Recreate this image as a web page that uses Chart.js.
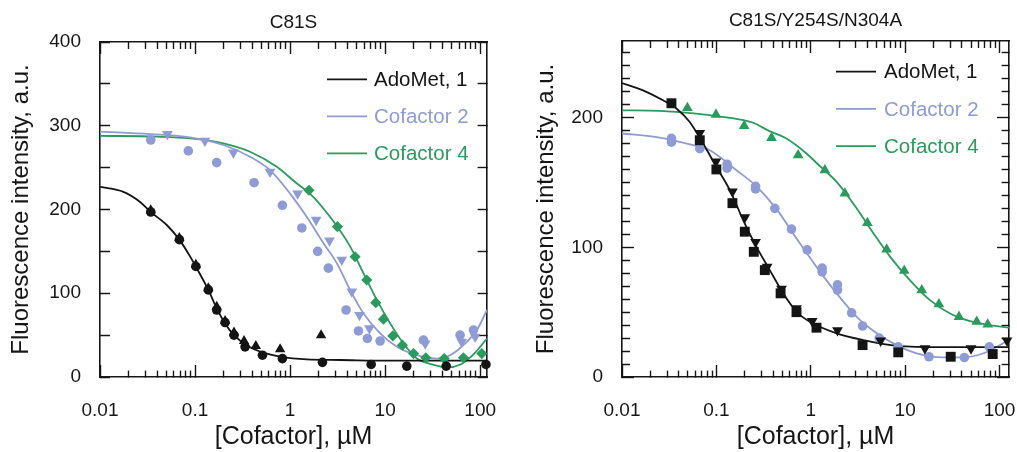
<!DOCTYPE html>
<html><head><meta charset="utf-8">
<script src="https://cdn.jsdelivr.net/npm/chart.js@4.4.1/dist/chart.umd.min.js"></script>
<style>
html,body{margin:0;padding:0;background:#fff;width:1017px;height:452px;overflow:hidden;}
#p1{position:absolute;left:0;top:0;}
#p2{position:absolute;left:508px;top:0;}
</style></head><body>
<canvas id="p1" width="508" height="452"></canvas>
<canvas id="p2" width="509" height="452"></canvas>
<script>
// ---------- text ----------
const panelTitles = ['C81S', 'C81S/Y254S/N304A'];
const seriesNames = ['AdoMet, 1', 'Cofactor 2', 'Cofactor 4'];
const xTitle = '[Cofactor], µM';
const yTitle = 'Fluorescence intensity, a.u.';

// ---------- ticks ----------
const xMajorTicks = [0.01, 0.1, 1, 10, 100];
const xTickLabels = ['0.01', '0.1', '1', '10', '100'];
const xMinorMultipliers = [2, 3, 4, 5, 6, 7, 8, 9];
const aYTicks = [0, 50, 100, 150, 200, 250, 300, 350, 400];
const aYTickLabels = [0, 100, 200, 300, 400];
const bYTicks = [0,10,20,30,40,50,60,70,80,90,100,110,120,130,140,150,160,170,180,190,200,210,220,230,240,250];
const bYTickLabels = [0, 100, 200];

// ---------- Panel A: C81S ----------
const a_ado_fit_x = [0.01, 0.0176, 0.0264, 0.0342, 0.0504, 0.0684, 0.0886, 0.104, 0.138, 0.169, 0.207, 0.257, 0.35, 0.524, 0.785, 1.5, 3.36, 11.3, 118];
const a_ado_fit_y = [227, 221, 209, 197, 181.5, 164, 144, 130, 104, 82, 64, 50, 38, 29, 24.3, 21, 20.3, 19.5, 19.5];
const a_ado_circ_x = [0.0342, 0.0684, 0.102, 0.138, 0.169, 0.207, 0.257, 0.336, 0.512, 0.83, 2.19, 7.13, 16.9, 43.9, 115];
const a_ado_circ_y = [197, 164, 132, 104, 80, 65, 50, 36, 26, 22, 17.5, 15, 13, 13, 15];
const a_ado_tri_x = [0.0342, 0.0684, 0.102, 0.138, 0.169, 0.207, 0.257, 0.328, 0.436, 0.785, 2.12];
const a_ado_tri_y = [199, 166, 134, 106, 84, 67, 53, 43, 37, 33, 50];

const a_c2_fit_x = [0.01, 0.0336, 0.0886, 0.199, 0.379, 0.615, 1.0, 1.5, 2.24, 3.1, 4.28, 5.91, 8.86, 13.3, 21.6, 35, 48.3, 72.4, 92.3, 118];
const a_c2_fit_y = [293, 290, 286, 277, 263, 247, 219, 191, 160, 136, 104, 76, 52, 36, 26, 22, 26, 42, 56, 80];
const a_c2_circ_x = [0.0342, 0.085, 0.169, 0.418, 0.83, 1.33, 1.95, 2.53, 3.88, 5.24, 6.51, 8.86, 25.3, 61.5, 85];
const a_c2_circ_y = [283, 270, 256, 232, 205, 178, 150, 130, 80, 55, 46, 43, 44, 50, 56];
const a_c2_dtri_x = [0.0512, 0.127, 0.253, 0.615, 1.2, 1.88, 2.6, 3.5, 4.46, 5.37, 6.84, 26.4, 64, 88.5];
const a_c2_dtri_y = [290, 282, 268, 245, 219, 187.5, 163, 140, 102, 74, 58, 40, 42, 48];

const a_c4_fit_x = [0.01, 0.0395, 0.0886, 0.199, 0.379, 0.724, 1.18, 1.62, 2.64, 4.28, 5.91, 8.17, 11.3, 15.6, 21.6, 32.3, 45, 62, 85, 118];
const a_c4_fit_y = [288, 287, 285, 279, 269, 251, 231, 219, 191, 156, 124, 92, 64, 40, 22, 14.5, 11.5, 15, 27, 46];
const a_c4_diam_x = [1.58, 3.15, 4.83, 6.41, 7.98, 9.6, 12.05, 15.2, 19.9, 26.8, 41.8, 66.7, 104];
const a_c4_diam_y = [223, 179.5, 143.6, 115.8, 88.7, 69, 49, 38, 28, 23, 22, 23, 28];

// ---------- Panel B: C81S/Y254S/N304A ----------
const b_ado_fit_x = [0.01, 0.0167, 0.0272, 0.0377, 0.0522, 0.0723, 0.1, 0.139, 0.192, 0.266, 0.368, 0.51, 0.706, 0.977, 1.88, 3.6, 8.13, 25.3, 126];
const b_ado_fit_y = [226.6, 221, 213.3, 207, 196.6, 180, 162, 144, 121, 100.3, 82.4, 64.5, 50.3, 42.6, 33.7, 28.5, 24, 23, 23];
const b_ado_sq_x = [0.0334, 0.0667, 0.1, 0.148, 0.2, 0.249, 0.326, 0.479, 0.706, 1.15, 3.54, 8.45, 30.4, 84.7];
const b_ado_sq_y = [211, 182.5, 160, 134, 112, 96.5, 82.4, 64.5, 50, 38, 24.6, 19, 15.6, 17.7];
const b_ado_dtri_x = [0.0667, 0.099, 0.148, 0.2, 0.26, 0.345, 0.49, 0.706, 1.035, 1.92, 5.5, 16.2, 49.9, 120];
const b_ado_dtri_y = [188, 166, 143, 123, 104, 85, 68, 53, 43, 36, 28, 22, 22, 28];

const b_c2_fit_x = [0.01, 0.0251, 0.0566, 0.0851, 0.163, 0.266, 0.434, 0.706, 1.15, 1.88, 3.07, 5.01, 8.13, 13.2, 25.3, 41.6, 67.8, 126];
const b_c2_fit_y = [187.7, 184.6, 178.7, 174.8, 159.4, 147, 129.4, 106.8, 84.9, 64.5, 46.4, 33.7, 24.6, 18.3, 15.2, 15.2, 18.3, 28.5];
const b_c2_circ_x = [0.0334, 0.0667, 0.13, 0.26, 0.416, 0.625, 0.916, 1.32, 1.92, 2.71, 3.54, 5.31, 8.45, 17.9, 42.4, 78];
const b_c2_circ_y = [184, 176, 164, 147, 130, 114, 98, 84, 71, 49.5, 39.3, 30, 23.3, 15.6, 15, 23.3];
const b_c2_circ2_x = [0.0334, 0.13, 0.26, 1.32, 1.92];
const b_c2_circ2_y = [181, 161, 145, 81, 67];

const b_c4_fit_x = [0.01, 0.0251, 0.0377, 0.0851, 0.163, 0.245, 0.366, 0.553, 0.9, 1.25, 1.88, 3.07, 4.62, 6.95, 11.2, 18.3, 29.9, 48.6, 79.3, 126];
const b_c4_fit_y = [205.6, 205.1, 204.3, 201.8, 199, 196, 189.5, 183.8, 172.3, 162.5, 150.4, 129.9, 110.7, 92.6, 74.7, 59.3, 49, 43.1, 40, 38];
const b_c4_tri_x = [0.0493, 0.099, 0.197, 0.384, 0.735, 1.41, 2.3, 3.98, 6.37, 9.78, 15, 22.8, 37.2, 57.3, 75];
const b_c4_tri_y = [207.4, 202.3, 193.5, 184.3, 171, 159.4, 141.5, 118.8, 98.3, 81.9, 67, 56.2, 46.4, 42.6, 40.6];

// ---------- styling ----------
const FONT = "'Liberation Sans', Arial, Helvetica, sans-serif";
const INK = '#161616';
const BLACK = '#141414';
const LAV = '#8e9bd4';
const GREEN = '#2a9b5c';
Chart.defaults.font.family = FONT;
Chart.defaults.color = INK;

const zip = (xs, ys) => xs.map((x, i) => ({x: x, y: ys[i]}));
function fitLine(label, color, xs, ys) {
  return {label, data: zip(xs, ys), showLine: true, borderColor: color, backgroundColor: color,
    borderWidth: 1.8, pointRadius: 0, pointHoverRadius: 0, fill: false,
    cubicInterpolationMode: 'monotone', order: 2};
}
function markers(label, color, style, r, rot, xs, ys) {
  return {label, data: zip(xs, ys), showLine: false, pointStyle: style, pointRadius: r,
    pointHoverRadius: r, pointRotation: rot, backgroundColor: color, borderColor: color,
    pointBorderWidth: 0, borderWidth: 0, clip: false, order: 1};
}

const xAllTicks = [];
xMajorTicks.forEach((m, i) => {
  xAllTicks.push(m);
  if (i < xMajorTicks.length - 1) xMinorMultipliers.forEach(k => xAllTicks.push(+(m * k).toPrecision(6)));
});
const majorIndex = v => xMajorTicks.findIndex(m => Math.abs(v / m - 1) < 1e-6);
const zeroPad = s => { s.paddingLeft = 0; s.paddingRight = 0; s.paddingTop = 0; s.paddingBottom = 0; };

const TL = 12;
function xAxis(pos, cfg) {
  const bottom = pos === 'bottom';
  return {
    type: 'logarithmic', position: pos, min: 0.01, max: cfg.xMax,
    afterBuildTicks: s => { s.ticks = xAllTicks.map(v => ({value: v})); },
    afterFit: s => { s.height = bottom ? 452 - cfg.bottom : 0; zeroPad(s); },
    border: {display: true, color: INK, width: 1.6},
    grid: {display: true, drawOnChartArea: false, drawTicks: true, tickLength: -TL,
      tickColor: INK, tickWidth: 1.4,
      tickBorderDash: c => {
        if (!c || !c.tick) return [];
        const L = majorIndex(c.tick.value) >= 0 ? 12 : 7;
        if (L >= TL) return [];
        return bottom ? [L, 100] : [0, TL - L, L, 100];
      }},
    ticks: bottom ? {autoSkip: false, minRotation: 0, maxRotation: 0, padding: 34, color: INK,
      font: {family: FONT, size: 19},
      callback: v => { const i = majorIndex(v); return i >= 0 ? xTickLabels[i] : ''; }} : {display: false},
    title: bottom ? {display: true, text: xTitle, color: INK, font: {family: FONT, size: 25},
      padding: {top: 0, bottom: 0}} : {display: false}
  };
}
function yAxis(pos, cfg) {
  const left = pos === 'left';
  const len = v => (v % 100 === 0) ? cfg.yMajorLen : cfg.yMinorLen;
  return {
    type: 'linear', position: pos, min: 0, max: cfg.yMax,
    afterBuildTicks: s => { s.ticks = cfg.yTicks.map(v => ({value: v})); },
    afterFit: s => { s.width = left ? cfg.yAxisWidth : 0; zeroPad(s); },
    border: {display: true, color: INK, width: 1.6},
    grid: {display: true, drawOnChartArea: false, drawTicks: true, tickLength: -TL,
      tickColor: INK, tickWidth: 1.4,
      tickBorderDash: c => {
        if (!c || !c.tick) return [];
        const L = len(c.tick.value);
        if (L >= TL) return [];
        return left ? [0, TL - L, L, 100] : [L, 100];
      }},
    ticks: left ? {autoSkip: false, padding: 31, color: INK, font: {family: FONT, size: 19},
      callback: v => cfg.yLabels.includes(v) ? String(v) : ''} : {display: false},
    title: left ? {display: true, text: yTitle, color: INK, font: {family: FONT, size: 24},
      padding: {top: cfg.yTitlePad, bottom: 0}} : {display: false}
  };
}

const inlineLegend = {
  id: 'inlineLegend',
  afterDatasetsDraw(chart, args, opts) {
    const ctx = chart.ctx, a = chart.chartArea;
    const items = chart.data.datasets.filter(d => d.showLine);
    ctx.save();
    ctx.font = opts.fontSize + 'px ' + FONT;
    ctx.textBaseline = 'middle';
    ctx.textAlign = 'left';
    items.forEach((d, i) => {
      const y = a.top + opts.y0 + i * opts.dy;
      ctx.strokeStyle = d.borderColor;
      ctx.lineWidth = 1.8;
      ctx.beginPath();
      ctx.moveTo(a.left + opts.lineX0, y);
      ctx.lineTo(a.left + opts.lineX1, y);
      ctx.stroke();
      ctx.fillStyle = d.borderColor;
      ctx.fillText(d.label, a.left + opts.textX, y + 1);
    });
    ctx.restore();
  }
};

function makeChart(id, cfg) {
  return new Chart(document.getElementById(id), {
    type: 'scatter',
    data: {datasets: cfg.datasets},
    options: {
      responsive: false, animation: false, devicePixelRatio: 1, events: [],
      layout: {padding: {left: 0, right: cfg.padRight, top: 0, bottom: 0}},
      plugins: {
        legend: {display: false}, tooltip: {enabled: false},
        title: {display: true, text: cfg.title, fullSize: false, color: INK,
          font: {family: FONT, size: 19, weight: 'normal', lineHeight: 1.2},
          padding: cfg.titlePad},
        inlineLegend: cfg.legend
      },
      scales: {
        x: xAxis('bottom', cfg), x2: xAxis('top', cfg),
        y: yAxis('left', cfg), y2: yAxis('right', cfg)
      }
    },
    plugins: [inlineLegend]
  });
}

makeChart('p1', {
  title: panelTitles[0], xMax: 118, yMax: 400, yTicks: aYTicks, yLabels: aYTickLabels,
  yMajorLen: 10, yMinorLen: 10, yAxisWidth: 100, yTitlePad: 7, padRight: 21, bottom: 377,
  titlePad: {top: 11, bottom: 8.2},
  legend: {fontSize: 20.5, lineX0: 227, lineX1: 267, textX: 274, y0: 37.3, dy: 37},
  datasets: [
    markers(seriesNames[0] + ' (a)', BLACK, 'circle', 4.8, 0, a_ado_circ_x, a_ado_circ_y),
    markers(seriesNames[0] + ' (b)', BLACK, 'triangle', 6, 0, a_ado_tri_x, a_ado_tri_y),
    markers(seriesNames[1] + ' (a)', LAV, 'circle', 4.8, 0, a_c2_circ_x, a_c2_circ_y),
    markers(seriesNames[1] + ' (b)', LAV, 'triangle', 6.2, 180, a_c2_dtri_x, a_c2_dtri_y),
    markers(seriesNames[2], GREEN, 'rectRot', 5.6, 0, a_c4_diam_x, a_c4_diam_y),
    fitLine(seriesNames[0], BLACK, a_ado_fit_x, a_ado_fit_y),
    fitLine(seriesNames[1], LAV, a_c2_fit_x, a_c2_fit_y),
    fitLine(seriesNames[2], GREEN, a_c4_fit_x, a_c4_fit_y)
  ]
});

makeChart('p2', {
  title: panelTitles[1], xMax: 126, yMax: 259, yTicks: bYTicks, yLabels: bYTickLabels,
  yMajorLen: 12, yMinorLen: 8, yAxisWidth: 114, yTitlePad: 24, padRight: 8, bottom: 377,
  titlePad: {top: 9, bottom: 9.2},
  legend: {fontSize: 20.5, lineX0: 214, lineX1: 254, textX: 262, y0: 30.7, dy: 37.2},
  datasets: [
    markers(seriesNames[0] + ' (a)', BLACK, 'rect', 7, 0, b_ado_sq_x, b_ado_sq_y),
    markers(seriesNames[0] + ' (b)', BLACK, 'triangle', 6.2, 180, b_ado_dtri_x, b_ado_dtri_y),
    markers(seriesNames[1] + ' (a)', LAV, 'circle', 4.8, 0, b_c2_circ_x, b_c2_circ_y),
    markers(seriesNames[1] + ' (b)', LAV, 'circle', 4.8, 0, b_c2_circ2_x, b_c2_circ2_y),
    markers(seriesNames[2], GREEN, 'triangle', 6.2, 0, b_c4_tri_x, b_c4_tri_y),
    fitLine(seriesNames[0], BLACK, b_ado_fit_x, b_ado_fit_y),
    fitLine(seriesNames[1], LAV, b_c2_fit_x, b_c2_fit_y),
    fitLine(seriesNames[2], GREEN, b_c4_fit_x, b_c4_fit_y)
  ]
});
</script></body></html>
